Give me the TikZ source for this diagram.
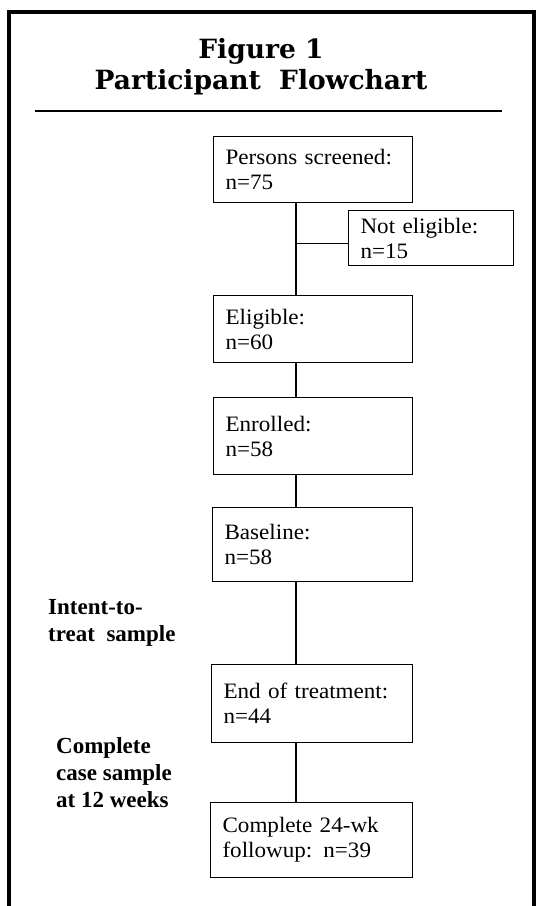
\documentclass[tikz,border=0pt]{standalone}
\usepackage{fontspec}
\setmainfont{Liberation Serif}
\newfontfamily\titlefont{DejaVu Serif}
\newfontfamily\boxfont[FakeStretch=1.05]{Liberation Serif}
\usetikzlibrary{positioning}

\begin{document}
\begin{tikzpicture}[
    x=1pt,
    y=-1pt,
    frame/.style={line width=3.5pt},
    stage/.style 2 args={draw, line width=1.1pt, anchor=north west,
        align=left, inner xsep=12pt, text width=#1, minimum height=#2,
        font=\boxfont\fontsize{22}{25}\selectfont},
    sample/.style={anchor=north west, align=left, inner sep=0pt,
        font=\bfseries\fontsize{23}{27}\selectfont},
    link/.style={line width=1.1pt}
]
\useasboundingbox (0,0) rectangle (536,906);

% Frame and heading
\draw[frame] (9,906) -- (9,12) -- (534,12) -- (534,906);
\node[font=\titlefont\bfseries\fontsize{26.5}{31}\selectfont, align=center]
    (title) at (261,67) {Figure 1\\Participant~~Flowchart};
\draw[line width=1.5pt] (35,111) -- (502,111);

% =========================
% Stages
% =========================
\node[stage={175pt}{66pt}] (screened) at (213,136) {Persons screened:\\n=75};
\node[stage={141pt}{55pt}] (noteligible) at (348,210) {Not eligible:\\n=15};
\node[stage={175pt}{67pt}] (eligible) at (213,295) {Eligible:\\n=60};
\node[stage={175pt}{77pt}] (enrolled) at (213,397) {Enrolled:\\n=58};
\node[stage={176pt}{74pt}] (baseline) at (212,507) {Baseline:\\n=58};
\node[stage={177pt}{78pt}] (endtreat) at (211,664) {End of treatment:\\n=44};
\node[stage={178pt}{75pt}] (followup) at (210,802) {Complete 24-wk\\followup: n=39};

% Sample labels
\node[sample] (itt) at (48,599) {Intent-to-\\treat~ sample};
\node[sample] (complete) at (56,737) {Complete\\case sample\\at 12 weeks};

% =========================
% Connectors
% =========================
\coordinate (spine) at (296,0);
\coordinate (branch) at ([yshift=-5pt]noteligible.west);

\draw[link] (screened.south -| spine) -- (eligible.north -| spine);
\draw[link] (spine |- branch) -- (branch);
\draw[link] (eligible.south -| spine) -- (enrolled.north -| spine);
\draw[link] (enrolled.south -| spine) -- (baseline.north -| spine);
\draw[link] (baseline.south -| spine) -- (endtreat.north -| spine);
\draw[link] (endtreat.south -| spine) -- (followup.north -| spine);

\end{tikzpicture}
\end{document}
